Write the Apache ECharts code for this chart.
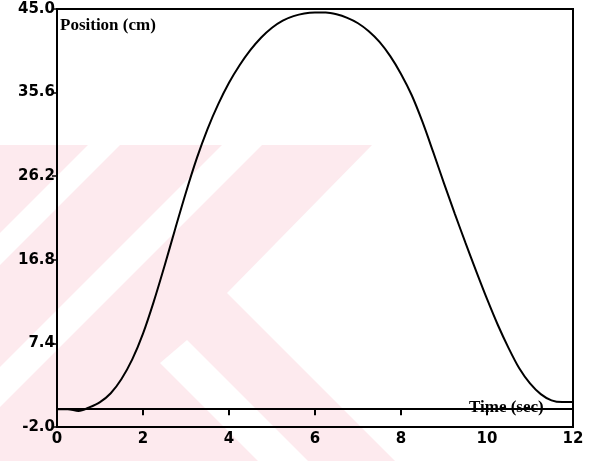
<!DOCTYPE html>
<html>
<head>
<meta charset="utf-8">
<script src="https://cdn.jsdelivr.net/npm/echarts@6/dist/echarts.min.js"></script>
<style>html,body{margin:0;padding:0;background:#fff}#c{width:597px;height:461px}</style>
</head>
<body>
<div id="c"></div>
<script>
const timeSec = [0,0.25,0.5,0.75,1,1.25,1.5,1.75,2,2.25,2.5,2.75,3,3.25,3.5,3.75,4,4.25,4.5,4.75,5,5.25,5.5,5.75,6,6.25,6.5,6.75,7,7.25,7.5,7.75,8,8.25,8.5,8.75,9,9.25,9.5,9.75,10,10.25,10.5,10.75,11,11.25,11.5,11.75,12];
const positionCm = [0.0,0.0,-0.2,0.2,0.8,1.8,3.4,5.6,8.5,12.1,16.1,20.3,24.4,28.2,31.5,34.3,36.7,38.7,40.4,41.8,42.9,43.7,44.2,44.5,44.6,44.6,44.4,44.0,43.4,42.5,41.3,39.7,37.7,35.3,32.3,28.9,25.4,22.0,18.7,15.5,12.4,9.5,6.9,4.6,2.9,1.7,1.0,0.8,0.8];
const zeroLineX = [0, 12];
const zeroLineY = [0, 0];
const yTicks = [-2.0, 7.4, 16.8, 26.2, 35.6, 45.0];

const chart = echarts.init(document.getElementById('c'), null, {renderer: 'canvas'});
const pink = '#fdeaee';
chart.setOption({
  animation: false,
  backgroundColor: '#fff',
  grid: {left: 57, right: 24, top: 9, bottom: 34, show: true, borderColor: '#000', borderWidth: 2, backgroundColor: 'transparent'},
  xAxis: {
    type: 'value', min: 0, max: 12, interval: 2,
    axisLine: {lineStyle: {color: '#000', width: 2}},
    axisTick: {show: true, length: 6, inside: false, lineStyle: {color: '#000', width: 2}},
    axisLabel: {color: '#000', fontFamily: 'DejaVu Sans', fontWeight: 'bold', fontSize: 15, margin: 5},
    splitLine: {show: false}
  },
  yAxis: {
    type: 'value', min: -2, max: 45,
    axisLine: {lineStyle: {color: '#000', width: 2}},
    axisTick: {show: true, length: 5, inside: false, customValues: yTicks, lineStyle: {color: '#000', width: 1.5}},
    axisLabel: {color: '#000', fontFamily: 'DejaVu Sans', fontWeight: 'bold', fontSize: 15, margin: 2,
      customValues: yTicks, formatter: v => Number(v).toFixed(1)},
    splitLine: {show: false}
  },
  graphic: [
    {type: 'polygon', z: -10, silent: true, shape: {points: [[0,145],[372,145],[227,293],[395,461],[0,461]]}, style: {fill: pink}},
    {type: 'polygon', z: -9, silent: true, shape: {points: [[88,145],[120,145],[0,265],[0,233]]}, style: {fill: '#fff'}},
    {type: 'polygon', z: -9, silent: true, shape: {points: [[222,145],[262,145],[0,407],[0,367]]}, style: {fill: '#fff'}},
    {type: 'polygon', z: -9, silent: true, shape: {points: [[160,363],[187,340],[308,461],[258,461]]}, style: {fill: '#fff'}},
    {type: 'text', left: 60, top: 17, z: 10, style: {text: 'Position (cm)', fill: '#000', fontFamily: 'Liberation Serif', fontWeight: 'bold', fontSize: 17}},
    {type: 'text', left: 469, top: 399, z: 10, style: {text: 'Time (sec)', fill: '#000', fontFamily: 'Liberation Serif', fontWeight: 'bold', fontSize: 17}}
  ],
  series: [
    {type: 'line', data: zeroLineX.map((x, i) => [x, zeroLineY[i]]), showSymbol: false, silent: true,
      lineStyle: {color: '#000', width: 1.2, type: [2, 3]}},
    {type: 'line', data: timeSec.map((t, i) => [t, positionCm[i]]), showSymbol: false, smooth: 0.3, silent: true,
      lineStyle: {color: '#000', width: 2}}
  ]
});
</script>
</body>
</html>
